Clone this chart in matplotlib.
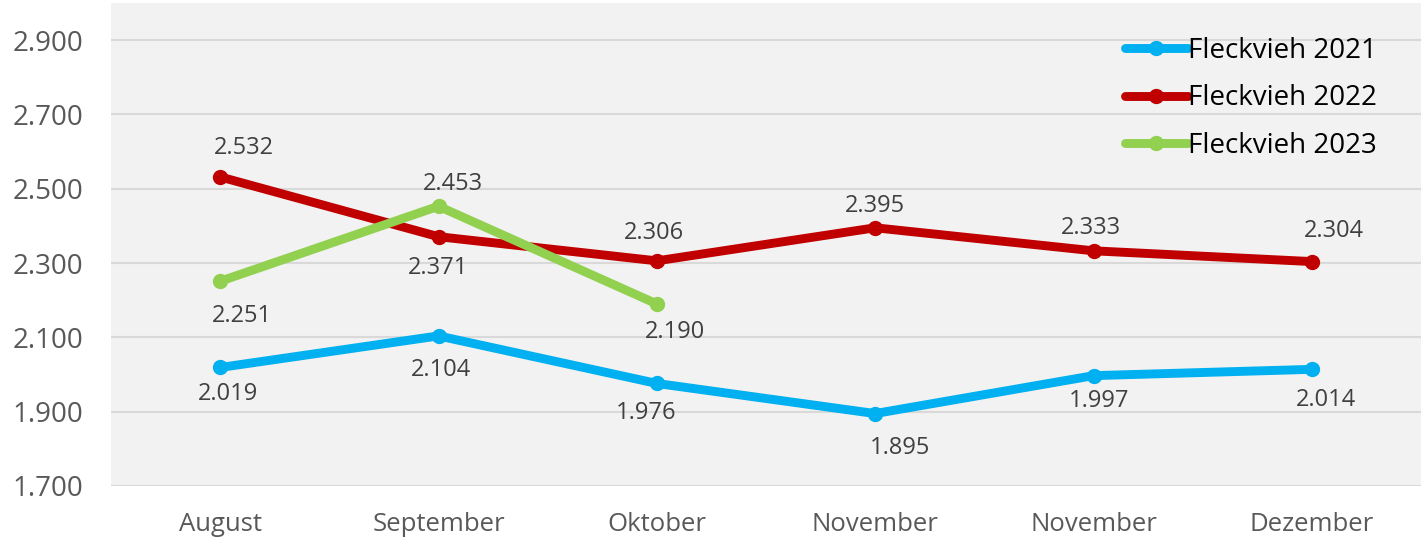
import matplotlib.pyplot as plt
import numpy as np

plt.rcParams['font.family'] = ['Open Sans', 'DejaVu Sans']

months = ['August', 'September', 'Oktober', 'November', 'November', 'Dezember']
fv_2021 = [2.019, 2.104, 1.976, 1.895, 1.997, 2.014]
fv_2022 = [2.532, 2.371, 2.306, 2.395, 2.333, 2.304]
fv_2023 = [2.251, 2.453, 2.190]

# label offsets in pixels (dx, dy), dy > 0 means below the point
off_2021 = [(8, 27), (3, 34), (-11, 30), (25, 34), (6, 25), (14, 31)]
off_2022 = [(24, -29), (0, 31), (-3, -28), (0, -22), (-3, -23), (22, -31)]
off_2023 = [(22, 35), (14, -22), (18, 28)]

yticks = [1.7, 1.9, 2.1, 2.3, 2.5, 2.7, 2.9]

fig = plt.figure(figsize=(14.26, 5.40), dpi=100)
ax = fig.add_axes([111 / 1426, 0.1, 1310 / 1426, 483 / 540])
ax.set_facecolor('#f2f2f2')

series = [
    ('Fleckvieh 2021', fv_2021, off_2021, '#00b0f0'),
    ('Fleckvieh 2022', fv_2022, off_2022, '#c00000'),
    ('Fleckvieh 2023', fv_2023, off_2023, '#92d050'),
]

px = 0.72  # points per pixel at dpi 100
for name, vals, offs, col in series:
    x = np.arange(len(vals))
    ax.plot(x, vals, color=col, lw=6.4, marker='o', ms=10,
            solid_capstyle='round', label=name, zorder=3)
    for xi, v, (dx, dy) in zip(x, vals, offs):
        ax.annotate(f'{v:.3f}', (xi, v), xytext=(dx * px, -dy * px),
                    textcoords='offset points', ha='center', va='center',
                    fontsize=17, color='#404040')

ax.set_xlim(-0.5, 5.5)
ax.set_ylim(1.7, 3.0)
ax.set_yticks(yticks)
ax.set_yticklabels([f'{v:.3f}' for v in yticks])
ax.set_xticks(range(len(months)))
ax.set_xticklabels(months)
ax.tick_params(axis='y', length=0, labelsize=20, labelcolor='#595959', pad=20)
ax.tick_params(axis='x', length=0, labelsize=18.5, labelcolor='#595959', pad=19)
ax.grid(axis='y', color='#d9d9d9', lw=1.5)
ax.set_axisbelow(True)
for s in ax.spines.values():
    s.set_visible(False)

ax.legend(loc='upper left', frameon=False, fontsize=20, handlelength=2.25,
          handletextpad=0.0, labelspacing=0.7, borderaxespad=0, borderpad=0,
          bbox_to_anchor=(1125 / 1426, 1 - 37 / 540),
          bbox_transform=fig.transFigure)

fig.savefig('out.png', dpi=100)
